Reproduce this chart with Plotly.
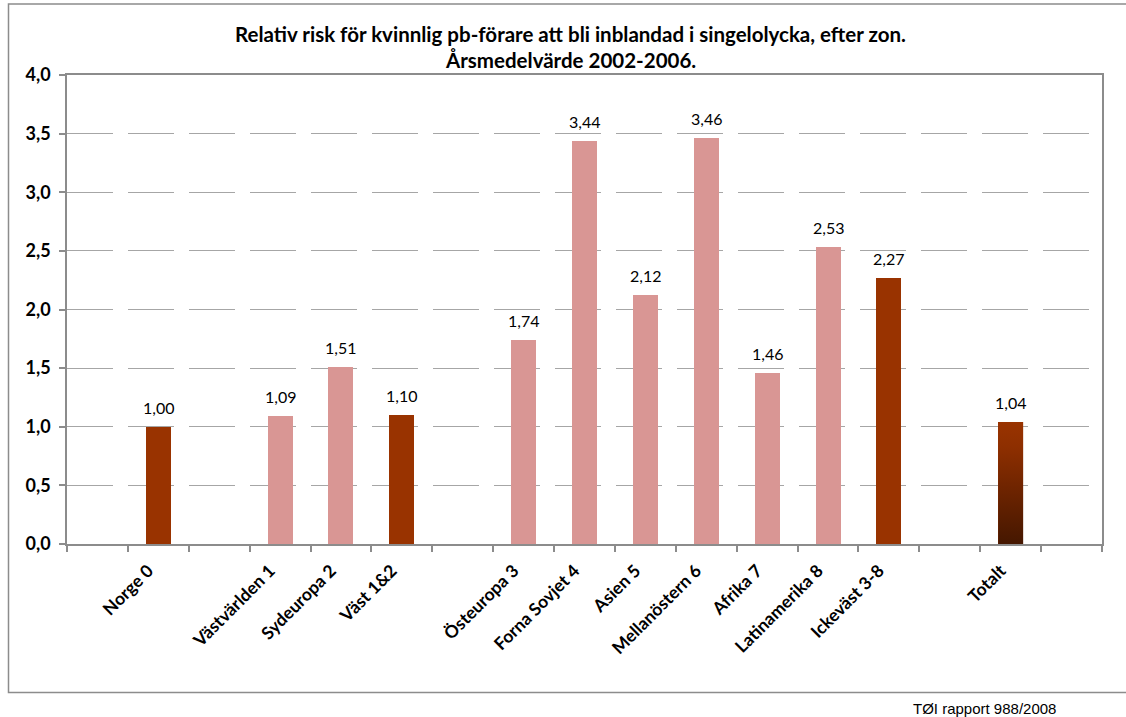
import plotly.graph_objects as go

# ---- data ----
categories = ["", "Norge 0", "", "Västvärlden 1", "Sydeuropa 2", "Väst 1&2", "",
              "Östeuropa 3", "Forna Sovjet 4", "Asien 5", "Mellanöstern 6", "Afrika 7",
              "Latinamerika 8", "Ickeväst 3-8", "", "Totalt", ""]
values = [None, 1.00, None, 1.09, 1.51, 1.10, None,
          1.74, 3.44, 2.12, 3.46, 1.46, 2.53, 2.27, None, 1.04, None]
groups = [None, "sum", None, "zone", "zone", "sum", None,
          "zone", "zone", "zone", "zone", "zone", "zone", "sum", None, "total", None]
y_ticks = [0, 0.5, 1.0, 1.5, 2.0, 2.5, 3.0, 3.5, 4.0]

PINK = "#D99694"
DARK = "#993300"
color_map = {"zone": PINK, "sum": DARK, "total": DARK}

W, H = 1126, 717
L, R, T, B = 67, 24, 75, 173
PW, PH = W - L - R, H - T - B


def pxx(x):
    return (x - L) / PW


def pxy(y):
    return (H - B - y) / PH


idx = [i for i, v in enumerate(values) if v is not None]
bar_x = idx
bar_y = [values[i] for i in idx]
bar_c = [color_map[groups[i]] for i in idx]
BW = 0.41

fig = go.Figure()
fig.add_trace(go.Bar(x=bar_x, y=bar_y, marker=dict(color=bar_c, line=dict(width=0)),
                     width=BW, showlegend=False, hoverinfo="skip"))

# gradient overlay for the total bar
for i in idx:
    if groups[i] == "total":
        v = values[i]
        fig.add_trace(go.Scatter(
            x=[i - BW / 2, i + BW / 2, i + BW / 2, i - BW / 2, i - BW / 2],
            y=[0, 0, v, v, 0], mode="lines", line=dict(width=0),
            fill="toself",
            fillgradient=dict(type="vertical", start=0, stop=v,
                              colorscale=[[0, "#451700"], [0.45, "#6e2400"], [0.8, "#8e2f00"], [1, "#993300"]]),
            showlegend=False, hoverinfo="skip"))

# data labels
for i in idx:
    v = values[i]
    fig.add_annotation(x=i, y=v, xref="x", yref="y", yanchor="bottom", yshift=8,
                       text=f"{v:.2f}".replace(".", ","), showarrow=False,
                       font=dict(family="Lato", size=16, color="#000"))

# title
fig.add_annotation(x=pxx(570), y=pxy(34), xref="paper", yref="paper", showarrow=False,
                   text="<b>Relativ risk för kvinnlig pb-förare att bli inblandad i singelolycka, efter zon.</b>",
                   font=dict(family="Lato", size=20.5, color="#000"), xanchor="center", yanchor="middle")
fig.add_annotation(x=pxx(570), y=pxy(60), xref="paper", yref="paper", showarrow=False,
                   text="<b>Årsmedelvärde 2002-2006.</b>",
                   font=dict(family="Lato", size=20.5, color="#000"), xanchor="center", yanchor="middle")

# footer
fig.add_annotation(x=pxx(984), y=pxy(708), xref="paper", yref="paper", showarrow=False,
                   text="TØI rapport 988/2008",
                   font=dict(family="Liberation Sans", size=15, color="#000"), xanchor="center", yanchor="middle")

# outer chart border
fig.add_shape(type="rect", xref="paper", yref="paper",
              x0=pxx(8.5), x1=pxx(1140), y0=pxy(692.5), y1=pxy(4),
              line=dict(color="#8c8c8c", width=1.5), fillcolor="rgba(0,0,0,0)", layer="below")

fig.update_layout(
    width=W, height=H,
    margin=dict(l=L, r=R, t=T, b=B, pad=0),
    paper_bgcolor="white", plot_bgcolor="white",
    separators=", ",
    bargap=0,
    xaxis=dict(
        range=[-0.5, len(categories) - 0.5],
        tickmode="array", tickvals=list(range(len(categories))), ticktext=categories,
        tickangle=-45, ticks="", showgrid=False, zeroline=False,
        ticklabelstandoff=8, ticklabelshift=-10,
        showline=True, linecolor="#8c8c8c", linewidth=1.5, mirror=True,
        tickfont=dict(family="Lato", size=17.5, color="#000", weight="bold"),
        minor=dict(tickmode="array", tickvals=[i - 0.5 for i in range(len(categories) + 1)],
                   ticks="outside", ticklen=6, tickcolor="#8c8c8c", tickwidth=1.5, showgrid=False),
    ),
    yaxis=dict(
        range=[0, 4], tickmode="array", tickvals=y_ticks, tickformat=".1f",
        ticks="outside", ticklen=6, tickcolor="#8c8c8c", tickwidth=1.5,
        ticklabelstandoff=5,
        showgrid=True, gridcolor="#a6a6a6", gridwidth=1, griddash="46px,15px",
        zeroline=False, showline=True, linecolor="#8c8c8c", linewidth=1.5, mirror=True,
        tickfont=dict(family="Lato", size=18, color="#000", weight="bold"),
    ),
)

fig.write_html("out.html", config={"displayModeBar": False},
               post_script="document.body.style.margin='0px';")
